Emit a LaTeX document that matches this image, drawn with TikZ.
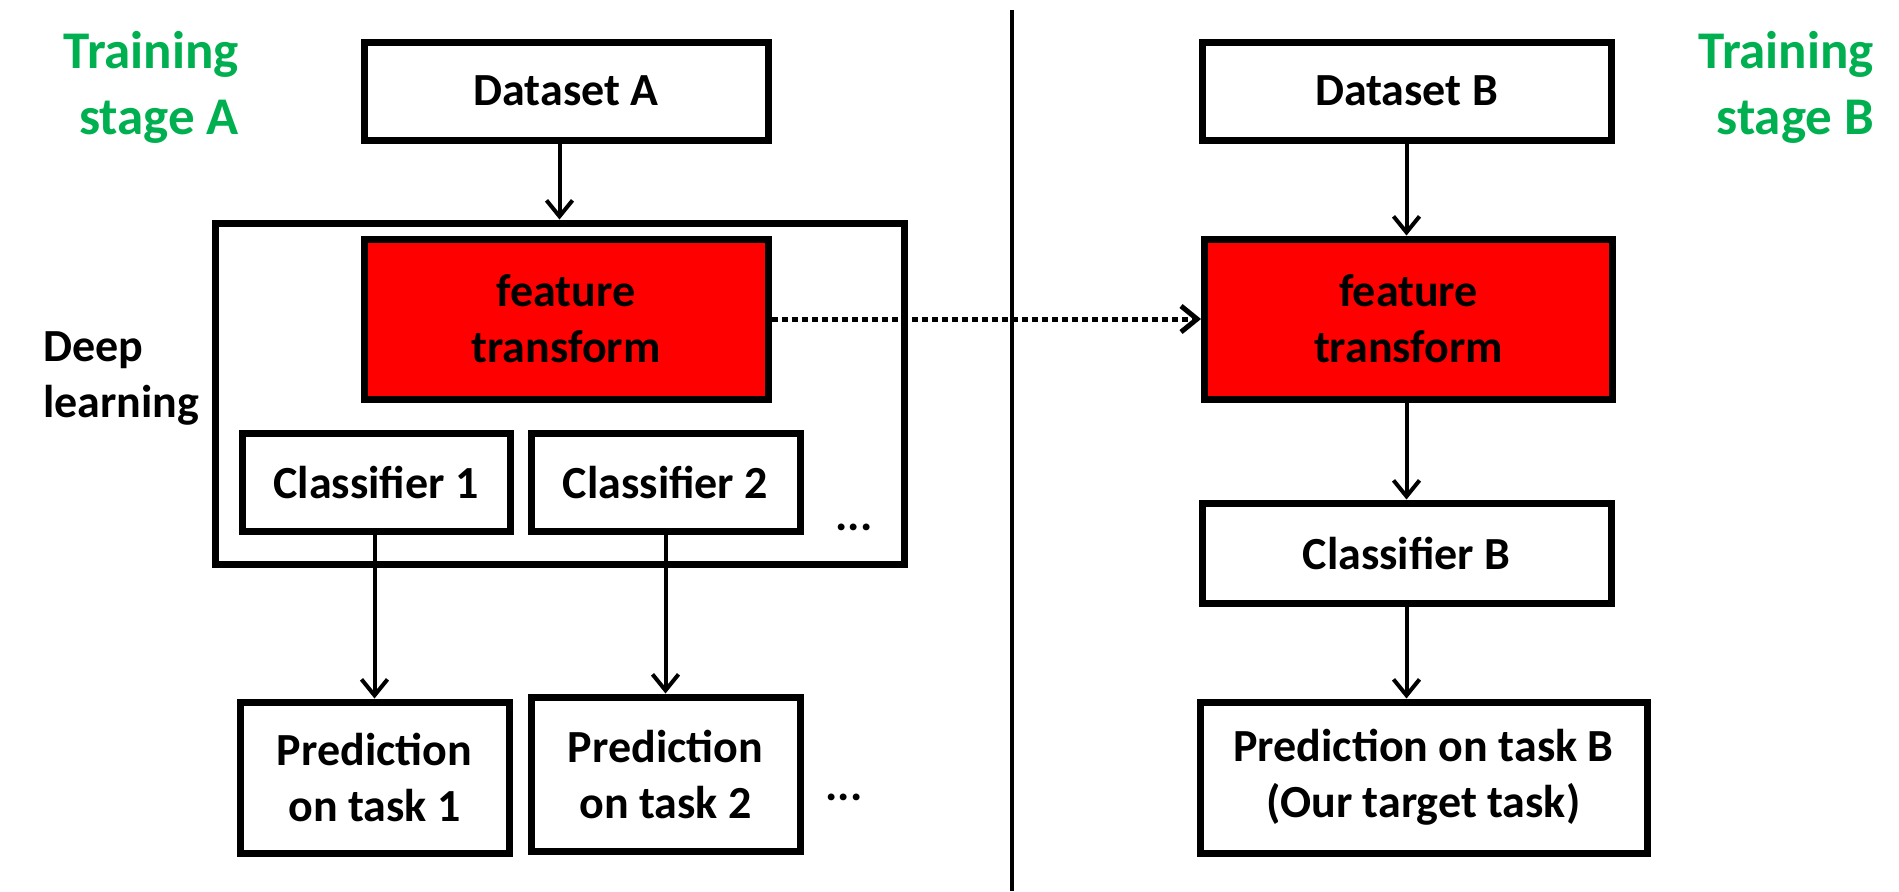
\documentclass[tikz,border=0pt]{standalone}
\usepackage{fontspec}
\setmainfont{Carlito}
\usetikzlibrary{arrows.meta}
\definecolor{stagegreen}{RGB}{0,176,80}

\begin{document}
\begin{tikzpicture}[x=0.5pt,y=-0.5pt,
  font=\fontsize{23}{28}\selectfont\bfseries,
  box/.style={draw,line width=3.5pt,align=center,inner sep=0pt},
  featbox/.style={box,fill=red,minimum width=204pt,minimum height=80pt},
  arr/.style={line width=2pt,-{Straight Barb[length=8pt,width=13pt]}},
  stage/.style={text=stagegreen,align=right,anchor=east,
    font=\fontsize{26.5}{33}\selectfont\bfseries}]
\useasboundingbox (0,0) rectangle (1899,891);

% training stage A
\node[stage] (stageA) at (246,87) {Training\\stage A};
\node[box,minimum width=202pt,minimum height=49pt] (dsA) at (566,91) {Dataset A};
\node[box,minimum width=344.5pt,minimum height=170.5pt] (dl) at (559.5,393.5) {};
\node[featbox,minimum width=202pt] (ftA) at (566,319) {feature\\transform};
\node[align=left,anchor=west] (dllabel) at (36,378) {Deep\\learning};
\node[box,minimum width=134pt,minimum height=49pt] (cl1) at (376,482) {Classifier 1};
\node[box,minimum width=134.5pt,minimum height=49pt] (cl2) at (665.5,482) {Classifier 2};
\node (dotsA) at (854,527) {...};
\node[box,minimum width=134.5pt,minimum height=75.5pt] (pr1) at (374.5,777.5) {Prediction\\on task 1};
\node[box,minimum width=134.5pt,minimum height=77pt] (pr2) at (665.5,774) {Prediction\\on task 2};
\node (dotsP) at (844,797) {...};

\draw[arr] (dsA.south -| dl.north) -- (dl.north);
\draw[arr] (cl1.south -| pr1.north) -- (pr1.north);
\draw[arr] (cl2.south) -- (cl2.south |- pr2.north);

% divider
\coordinate (divtop) at (1012,10);
\coordinate (divbot) at (1012,891);
\draw[line width=2.2pt] (divtop) -- (divbot);

% training stage B
\node[stage] (stageB) at (1881,87) {Training\\stage B};
\node[box,minimum width=204.5pt,minimum height=49pt] (dsB) at (1406.5,91) {Dataset B};
\node[featbox] (ftB) at (1408.5,319) {feature\\transform};
\node[box,minimum width=204.5pt,minimum height=50pt] (clB) at (1406.5,553) {Classifier B};
\node[box,minimum width=223.5pt,minimum height=75.5pt] (prB) at (1423.5,777.5) {Prediction on task B\\(Our target task)};

\draw[arr] (dsB.south) -- (dsB.south |- ftB.north);
\draw[arr] (clB.south |- ftB.south) -- (clB.north);
\draw[arr] (clB.south) -- (clB.south |- prB.north);

\draw[arr,line width=2.5pt,dash pattern=on 3pt off 2pt] (ftA.east) -- (ftB.west);
\end{tikzpicture}
\end{document}
